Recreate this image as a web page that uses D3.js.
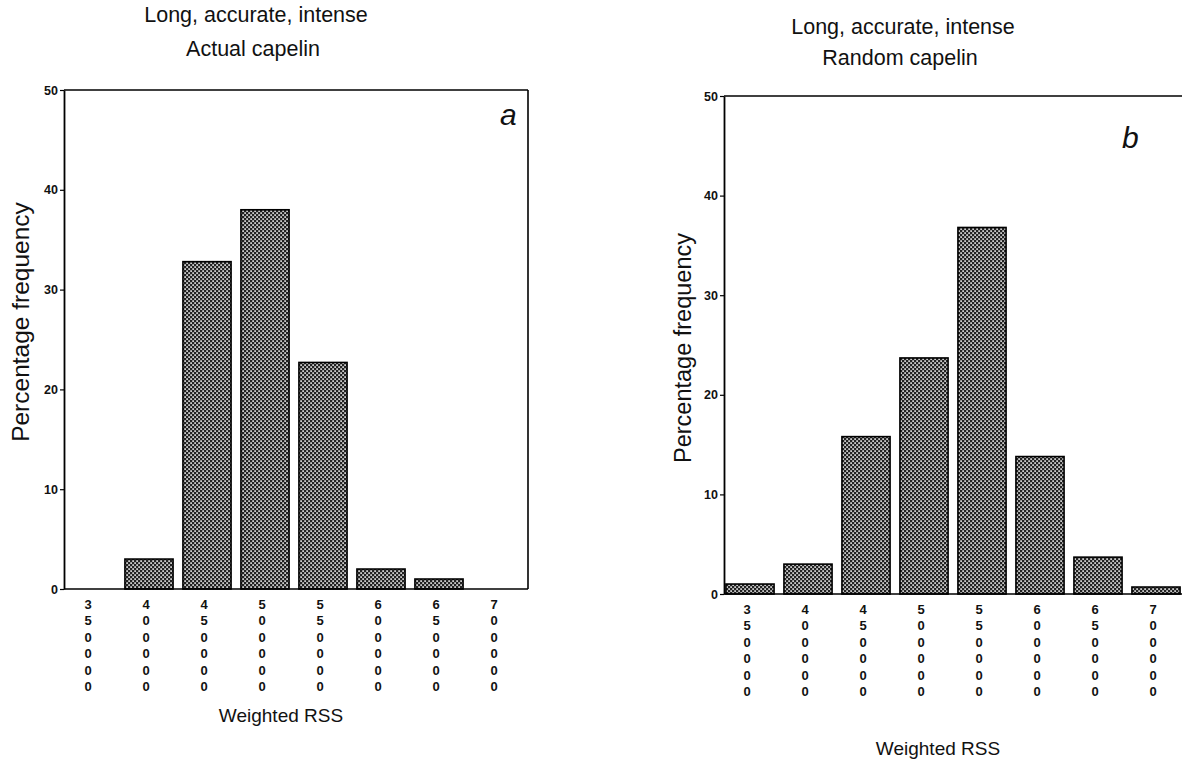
<!DOCTYPE html>
<html>
<head>
<meta charset="utf-8">
<script src="https://cdn.jsdelivr.net/npm/d3@7"></script>
<style>
  html, body { margin: 0; padding: 0; background: #fff; }
  svg { display: block; }
  text { font-family: "Liberation Sans", Arial, sans-serif; fill: #111; }
</style>
</head>
<body>
<svg id="chart" width="1182" height="762"></svg>
<script>
// ---- data ----
const categories = ["350000", "400000", "450000", "500000", "550000", "600000", "650000", "700000"];
const actualCapelin = [0, 3, 32.8, 38, 22.7, 2, 1, 0];
const randomCapelin = [1, 3, 15.8, 23.7, 36.8, 13.8, 3.7, 0.7];
const yTicks = [0, 10, 20, 30, 40, 50];
const titleLine1 = "Long, accurate, intense";
const subtitleA = "Actual capelin";
const subtitleB = "Random capelin";
const yLabel = "Percentage frequency";
const xLabel = "Weighted RSS";

const svg = d3.select("#chart");

// dotted fill pattern
const defs = svg.append("defs");
const pat = defs.append("pattern")
  .attr("id", "dots").attr("patternUnits", "userSpaceOnUse")
  .attr("width", 4).attr("height", 4);
pat.append("rect").attr("width", 4).attr("height", 4).attr("fill", "#222");
pat.append("rect").attr("x", 0.3).attr("y", 0.3).attr("width", 1.6).attr("height", 1.6).attr("fill", "#f4f4f4");
pat.append("rect").attr("x", 2.3).attr("y", 2.3).attr("width", 1.6).attr("height", 1.6).attr("fill", "#f4f4f4");

function drawPanel(cfg) {
  const g = svg.append("g");
  const x = d3.scaleBand().domain(categories).range(cfg.barRange)
    .paddingInner(0.17).paddingOuter(0.085);
  const y = d3.scaleLinear().domain([0, 50]).range([cfg.bottom, cfg.top]);

  // titles
  g.append("text").attr("x", cfg.titleX).attr("y", cfg.titleY)
    .attr("text-anchor", "middle").attr("font-size", 21.5).text(titleLine1);
  g.append("text").attr("x", cfg.titleX - 3).attr("y", cfg.titleY + cfg.titleGap)
    .attr("text-anchor", "middle").attr("font-size", 21.5).text(cfg.subtitle);

  // bars
  g.selectAll("rect.bar").data(cfg.values.map((v, i) => ({c: categories[i], v})).filter(d => d.v > 0))
    .join("rect").attr("class", "bar")
    .attr("x", d => x(d.c)).attr("width", x.bandwidth())
    .attr("y", d => y(d.v)).attr("height", d => y(0) - y(d.v))
    .attr("fill", "url(#dots)").attr("stroke", "#000").attr("stroke-width", 1.6);

  // frame
  g.append("line").attr("x1", cfg.left).attr("x2", cfg.right)
    .attr("y1", y(50)).attr("y2", y(50)).attr("stroke", "#000").attr("stroke-width", 1.6);
  if (cfg.rightEdge) {
    g.append("line").attr("x1", cfg.right).attr("x2", cfg.right)
      .attr("y1", y(50)).attr("y2", y(0)).attr("stroke", "#000").attr("stroke-width", 1.6);
  }
  g.append("line").attr("x1", cfg.left).attr("x2", cfg.right)
    .attr("y1", y(0)).attr("y2", y(0)).attr("stroke", "#000").attr("stroke-width", 1.6);

  // y axis
  const ya = g.append("g").attr("transform", `translate(${cfg.left},0)`)
    .call(d3.axisLeft(y).tickValues(yTicks).tickSize(4).tickPadding(2).tickSizeOuter(0));
  ya.select(".domain").attr("stroke", "#000").attr("stroke-width", 1.8);
  ya.selectAll("line").attr("stroke", "#000").attr("stroke-width", 1.2);
  ya.selectAll("text").attr("font-size", 12.5).attr("font-weight", "bold")
    .attr("font-family", "Liberation Sans, Arial, sans-serif").attr("fill", "#111");

  // x tick labels (vertical digit stacks)
  const xt = g.append("g");
  categories.forEach(c => {
    const cx = x(c) + x.bandwidth() / 2 + cfg.labelShift;
    c.split("").forEach((ch, k) => {
      xt.append("text").attr("x", cx).attr("y", cfg.bottom + 20 + k * 16.4)
        .attr("text-anchor", "middle").attr("font-size", 13).attr("font-weight", "bold")
        .text(ch);
    });
  });

  // axis titles
  g.append("text").attr("x", cfg.xLabelX).attr("y", cfg.bottom + cfg.xLabelDy)
    .attr("text-anchor", "middle").attr("font-size", 19).text(xLabel);
  g.append("text")
    .attr("transform", `translate(${cfg.yLabelX},${cfg.yLabelY}) rotate(-90)`)
    .attr("text-anchor", "middle").attr("font-size", cfg.yLabelSize).text(yLabel);

  // panel letter
  g.append("text").attr("x", cfg.letterX).attr("y", cfg.letterY)
    .attr("font-size", 30).attr("font-style", "italic")
    .attr("font-family", "DejaVu Serif, serif").text(cfg.letter);
}

drawPanel({
  values: actualCapelin, subtitle: subtitleA, letter: "a",
  left: 64, right: 528, top: 90, bottom: 589, barRange: [62, 526],
  rightEdge: true, titleX: 256, titleY: 22, titleGap: 34, labelShift: -3,
  xLabelX: 281, xLabelDy: 133, yLabelX: 29, yLabelY: 322, yLabelSize: 24.5,
  letterX: 500, letterY: 125
});
drawPanel({
  values: randomCapelin, subtitle: subtitleB, letter: "b",
  left: 724, right: 1188, top: 96, bottom: 594, barRange: [721, 1185],
  rightEdge: false, titleX: 903, titleY: 34, titleGap: 31, labelShift: -3,
  xLabelX: 938, xLabelDy: 161, yLabelX: 691, yLabelY: 348, yLabelSize: 23.5,
  letterX: 1122, letterY: 148
});
</script>
</body>
</html>
